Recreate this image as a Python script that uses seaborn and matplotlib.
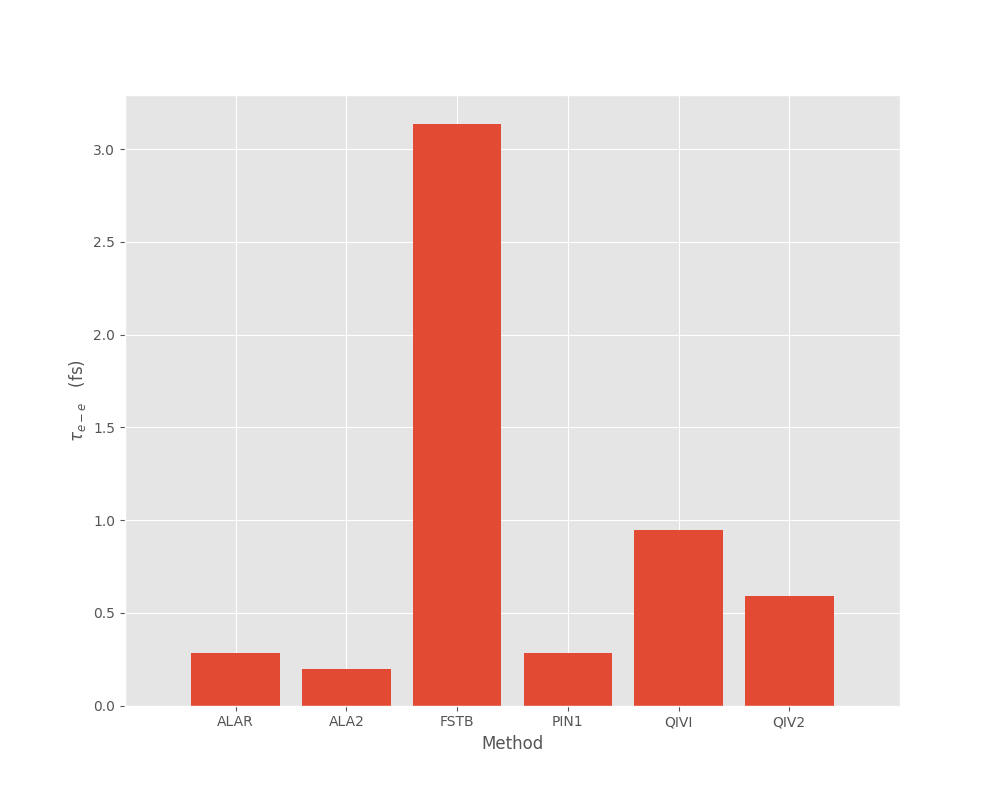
import matplotlib
matplotlib.use("Agg")
import matplotlib.pyplot as plt
import seaborn as sns
import pandas as pd

methods = ["ALAR", "ALA2", "FSTB", "PIN1", "QIVI", "QIV2"]
tau_ee = [0.285, 0.199, 3.134, 0.285, 0.948, 0.592]

def main():
    plt.style.use("ggplot")
    df = pd.DataFrame({"Method": methods, "tau": tau_ee})

    fig, ax = plt.subplots(figsize=(10, 7.93), dpi=100)
    sns.barplot(data=df, x="Method", y="tau", color="#E24A33",
                saturation=1, width=0.8, ax=ax)
    ax.set_xlim(-1, 6)
    ax.set_ylim(0, 3.134 * 1.05)
    ax.grid(True, axis="both", color="white")
    ax.set_axisbelow(True)
    ax.set_xlabel("Method")
    ax.set_ylabel(r"$\tau_{e-e}$   (fs)")

    fig.savefig("out.png", dpi=100)

if __name__ == "__main__":
    main()
